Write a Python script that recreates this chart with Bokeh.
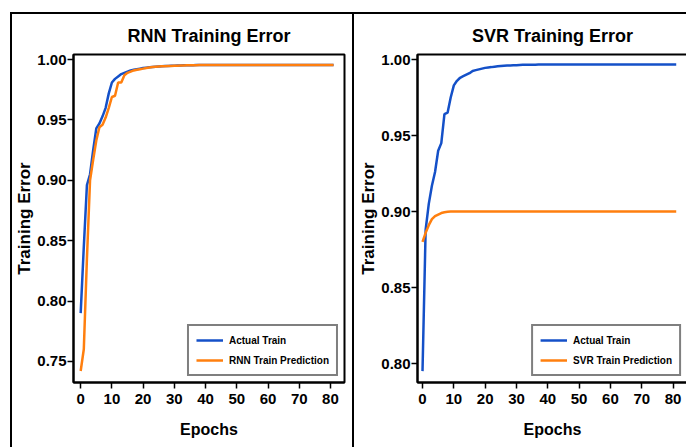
from bokeh.plotting import figure
from bokeh.layouts import row, column
from bokeh.models import Spacer, Legend, LegendItem, FixedTicker, CustomJSTickFormatter
from bokeh.embed import file_html
from bokeh.resources import INLINE

# Epoch index shared by both panels
epochs = list(range(82))

# RNN panel: actual training curve and RNN prediction
rnn_actual = [
    0.790, 0.845, 0.896, 0.905, 0.925, 0.943, 0.947, 0.953, 0.960, 0.972,
    0.981, 0.984, 0.986, 0.988, 0.989, 0.990, 0.991, 0.9915, 0.992, 0.9925,
    0.993, 0.9933, 0.9936, 0.9939, 0.9941, 0.9943, 0.9945, 0.9946, 0.9947, 0.9948,
    0.9949, 0.9950, 0.9951, 0.9952, 0.9952, 0.9953, 0.9953, 0.9954, 0.9954, 0.9954,
    0.9955, 0.9955, 0.9955, 0.9955, 0.9955, 0.9955, 0.9955, 0.9955, 0.9955, 0.9955,
    0.9955, 0.9955, 0.9955, 0.9955, 0.9955, 0.9955, 0.9955, 0.9955, 0.9955, 0.9955,
    0.9955, 0.9955, 0.9955, 0.9955, 0.9955, 0.9955, 0.9955, 0.9955, 0.9955, 0.9955,
    0.9955, 0.9955, 0.9955, 0.9955, 0.9955, 0.9955, 0.9955, 0.9955, 0.9955, 0.9955,
    0.9955, 0.9955,
]
rnn_pred = [
    0.742, 0.760, 0.835, 0.900, 0.917, 0.933, 0.944, 0.946, 0.952, 0.960,
    0.969, 0.970, 0.981, 0.981, 0.987, 0.989, 0.990, 0.991, 0.9915, 0.992,
    0.9925, 0.993, 0.9935, 0.9938, 0.9940, 0.9942, 0.9944, 0.9945, 0.9946, 0.9947,
    0.9948, 0.9949, 0.9950, 0.9951, 0.9952, 0.9952, 0.9953, 0.9953, 0.9954, 0.9954,
    0.9954, 0.9955, 0.9955, 0.9955, 0.9955, 0.9955, 0.9955, 0.9955, 0.9955, 0.9955,
    0.9955, 0.9955, 0.9955, 0.9955, 0.9955, 0.9955, 0.9955, 0.9955, 0.9955, 0.9955,
    0.9955, 0.9955, 0.9955, 0.9955, 0.9955, 0.9955, 0.9955, 0.9955, 0.9955, 0.9955,
    0.9955, 0.9955, 0.9955, 0.9955, 0.9955, 0.9955, 0.9955, 0.9955, 0.9955, 0.9955,
    0.9955, 0.9955,
]

# SVR panel: actual training curve and SVR prediction
svr_actual = [
    0.795, 0.888, 0.905, 0.917, 0.926, 0.940, 0.945, 0.964, 0.965, 0.975,
    0.983, 0.986, 0.988, 0.989, 0.990, 0.991, 0.9925, 0.993, 0.9935, 0.994,
    0.9945, 0.9948, 0.9950, 0.9953, 0.9955, 0.9957, 0.9959, 0.9960, 0.9961, 0.9962,
    0.9963, 0.9964, 0.9965, 0.9965, 0.9966, 0.9966, 0.9966, 0.9967, 0.9967, 0.9967,
    0.9967, 0.9967, 0.9967, 0.9967, 0.9967, 0.9967, 0.9967, 0.9967, 0.9967, 0.9967,
    0.9967, 0.9967, 0.9967, 0.9967, 0.9967, 0.9967, 0.9967, 0.9967, 0.9967, 0.9967,
    0.9967, 0.9967, 0.9967, 0.9967, 0.9967, 0.9967, 0.9967, 0.9967, 0.9967, 0.9967,
    0.9967, 0.9967, 0.9967, 0.9967, 0.9967, 0.9967, 0.9967, 0.9967, 0.9967, 0.9967,
    0.9967, 0.9967,
]
svr_pred = [
    0.880, 0.886, 0.891, 0.895, 0.897, 0.898, 0.899, 0.8995, 0.8998, 0.900,
    0.900, 0.900, 0.900, 0.900, 0.900, 0.900, 0.900, 0.900, 0.900, 0.900,
    0.900, 0.900, 0.900, 0.900, 0.900, 0.900, 0.900, 0.900, 0.900, 0.900,
    0.900, 0.900, 0.900, 0.900, 0.900, 0.900, 0.900, 0.900, 0.900, 0.900,
    0.900, 0.900, 0.900, 0.900, 0.900, 0.900, 0.900, 0.900, 0.900, 0.900,
    0.900, 0.900, 0.900, 0.900, 0.900, 0.900, 0.900, 0.900, 0.900, 0.900,
    0.900, 0.900, 0.900, 0.900, 0.900, 0.900, 0.900, 0.900, 0.900, 0.900,
    0.900, 0.900, 0.900, 0.900, 0.900, 0.900, 0.900, 0.900, 0.900, 0.900,
    0.900, 0.900,
]

x_ticks = [0, 10, 20, 30, 40, 50, 60, 70, 80]
rnn_y_ticks = [0.75, 0.80, 0.85, 0.90, 0.95, 1.00]
svr_y_ticks = [0.80, 0.85, 0.90, 0.95, 1.00]

FONT = "Liberation Sans"
BLUE = "#1450c8"
ORANGE = "#ff7f0e"


def panel(title, actual, pred, pred_label, x_range, y_range, y_ticks,
          width, height, borders):
    p = figure(width=width, height=height, output_backend="svg",
               toolbar_location=None, x_range=x_range, y_range=y_range,
               min_border_left=borders[0], min_border_right=borders[1],
               min_border_top=borders[2], min_border_bottom=borders[3])
    p.title.text = title
    p.title.align = "center"
    p.title.text_font = FONT
    p.title.text_font_style = "bold"
    p.title.text_font_size = "18px"
    p.title.text_color = "black"
    p.title.standoff = 18

    p.xgrid.visible = False
    p.ygrid.visible = False
    p.outline_line_color = "black"
    p.outline_line_width = 2
    p.background_fill_color = "white"
    p.border_fill_color = "white"

    for ax in (p.xaxis[0], p.yaxis[0]):
        ax.axis_line_color = "black"
        ax.axis_line_width = 2
        ax.major_tick_line_color = "black"
        ax.major_tick_line_width = 1.5
        ax.major_tick_out = 6
        ax.major_tick_in = 0
        ax.minor_tick_line_color = None
        ax.major_label_text_font = FONT
        ax.major_label_text_font_style = "bold"
        ax.major_label_text_font_size = "15px"
        ax.major_label_text_color = "black"
        ax.axis_label_text_font = FONT
        ax.axis_label_text_font_style = "bold"
        ax.axis_label_text_font_size = "16px"
        ax.axis_label_text_color = "black"

    p.xaxis.ticker = FixedTicker(ticks=x_ticks)
    p.yaxis.ticker = FixedTicker(ticks=y_ticks)
    p.yaxis.formatter = CustomJSTickFormatter(code="return tick.toFixed(2);")
    p.xaxis.axis_label = "Epochs"
    p.yaxis.axis_label = "Training Error"
    p.yaxis.axis_label_text_font_size = "17px"
    p.xaxis.major_label_standoff = 5
    p.yaxis.major_label_standoff = 1
    p.xaxis.axis_label_standoff = 14
    p.yaxis.axis_label_standoff = 0

    r1 = p.line(epochs, actual, line_color=BLUE, line_width=2.5)
    r2 = p.line(epochs, pred, line_color=ORANGE, line_width=2.5)

    legend = Legend(items=[LegendItem(label="Actual Train", renderers=[r1]),
                           LegendItem(label=pred_label, renderers=[r2])],
                    location="bottom_right")
    legend.margin = 6
    legend.padding = 7
    legend.spacing = 6
    legend.glyph_width = 27
    legend.glyph_height = 14
    legend.label_height = 14
    legend.label_standoff = 6
    legend.label_text_font = FONT
    legend.label_text_font_style = "bold"
    legend.label_text_font_size = "10px"
    legend.label_text_color = "black"
    legend.border_line_color = "black"
    legend.border_line_width = 2
    legend.background_fill_alpha = 1
    p.add_layout(legend, "center")
    return p


p1 = panel("RNN Training Error", rnn_actual, rnn_pred, "RNN Train Prediction",
           (-2.3, 84.5), (0.7325, 1.0042), rnn_y_ticks,
           342, 435, (61, 10, 38, 67))
p1.styles = {"border-top": "2px solid black", "border-left": "2px solid black",
             "box-sizing": "border-box"}

p2 = panel("SVR Training Error", svr_actual, svr_pred, "SVR Train Prediction",
           (-1.6, 84.6), (0.7875, 1.0033), svr_y_ticks,
           334, 435, (63, 1, 40, 67))
p2.styles = {"border-top": "2px solid black", "border-left": "2px solid black",
             "box-sizing": "border-box"}

layout = column(Spacer(height=12), row(Spacer(width=10), p1, p2))

open("out.html", "w").write(file_html(layout, INLINE))
